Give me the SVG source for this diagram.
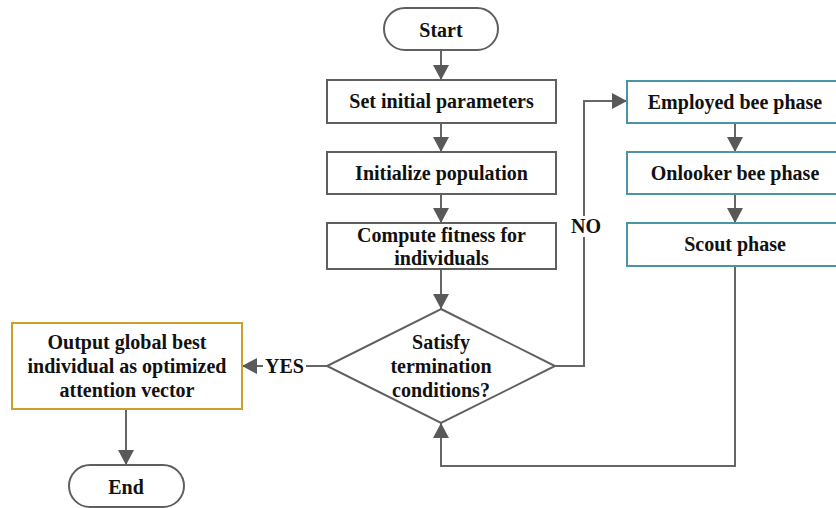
<svg xmlns="http://www.w3.org/2000/svg" width="836" height="508" viewBox="0 0 836 508">
<defs>
<style>
.box{fill:#fff;stroke:#5f5f5f;stroke-width:2}
.blue{fill:#fff;stroke:#4a93a8;stroke-width:2}
.gold{fill:#fff;stroke:#c9a02a;stroke-width:2}
.ln{fill:none;stroke:#666;stroke-width:2}
.t{font-family:"Liberation Serif","Times New Roman",serif;font-weight:bold;font-size:20px;fill:#111;text-anchor:middle;dominant-baseline:central}
</style>
<marker id="ah" markerUnits="userSpaceOnUse" markerWidth="16" markerHeight="16" refX="15" refY="8" orient="auto">
<path d="M0,0 L15,8 L0,16 Z" fill="#595959"/>
</marker>
</defs>
<g id="connectors">
<line class="ln" x1="441" y1="50" x2="441" y2="80" marker-end="url(#ah)"/>
<line class="ln" x1="441" y1="123" x2="441" y2="152" marker-end="url(#ah)"/>
<line class="ln" x1="441" y1="194" x2="441" y2="223" marker-end="url(#ah)"/>
<line class="ln" x1="441" y1="269" x2="441" y2="309" marker-end="url(#ah)"/>
<polyline class="ln" points="555,366 584,366 584,237"/>
<polyline class="ln" points="584,216 584,101 627,101" marker-end="url(#ah)"/>
<line class="ln" x1="735" y1="123" x2="735" y2="152" marker-end="url(#ah)"/>
<line class="ln" x1="735" y1="194" x2="735" y2="223" marker-end="url(#ah)"/>
<polyline class="ln" points="735,266 735,466 441,466 441,423" marker-end="url(#ah)"/>
<line class="ln" x1="327" y1="366" x2="306" y2="366"/>
<line class="ln" x1="263" y1="366" x2="242" y2="366" marker-end="url(#ah)"/>
<line class="ln" x1="126" y1="409" x2="126" y2="465" marker-end="url(#ah)"/>
<text class="t" x="586" y="226">NO</text>
<text class="t" x="284.5" y="366">YES</text>
</g>
<g id="start">
<rect class="box" x="384" y="8" width="114" height="42" rx="21"/>
<text class="t" x="441" y="30">Start</text>
</g>
<g id="set-params">
<rect class="box" x="327" y="80" width="229" height="43"/>
<text class="t" x="441.5" y="101">Set initial parameters</text>
</g>
<g id="init-pop">
<rect class="box" x="327" y="152" width="229" height="42"/>
<text class="t" x="441.5" y="173">Initialize population</text>
</g>
<g id="fitness">
<rect class="box" x="327" y="223" width="229" height="46"/>
<text class="t" x="441.5" y="234.5">Compute fitness for</text>
<text class="t" x="441.5" y="257.5">individuals</text>
</g>
<g id="decision">
<polygon class="box" points="441,309 555,366 441,423 327,366"/>
<text class="t" x="441" y="342">Satisfy</text>
<text class="t" x="441" y="366">termination</text>
<text class="t" x="441" y="390">conditions?</text>
</g>
<g id="employed">
<rect class="blue" x="627" y="81" width="216" height="42"/>
<text class="t" x="735" y="102">Employed bee phase</text>
</g>
<g id="onlooker">
<rect class="blue" x="627" y="152" width="216" height="42"/>
<text class="t" x="735" y="173">Onlooker bee phase</text>
</g>
<g id="scout">
<rect class="blue" x="627" y="223" width="216" height="43"/>
<text class="t" x="735" y="244">Scout phase</text>
</g>
<g id="output">
<rect class="gold" x="12" y="323" width="230" height="86"/>
<text class="t" x="127" y="342">Output global best</text>
<text class="t" x="127" y="366">individual as optimized</text>
<text class="t" x="127" y="390">attention vector</text>
</g>
<g id="end">
<rect class="box" x="69" y="465" width="115" height="42" rx="21"/>
<text class="t" x="126" y="487">End</text>
</g>
</svg>
